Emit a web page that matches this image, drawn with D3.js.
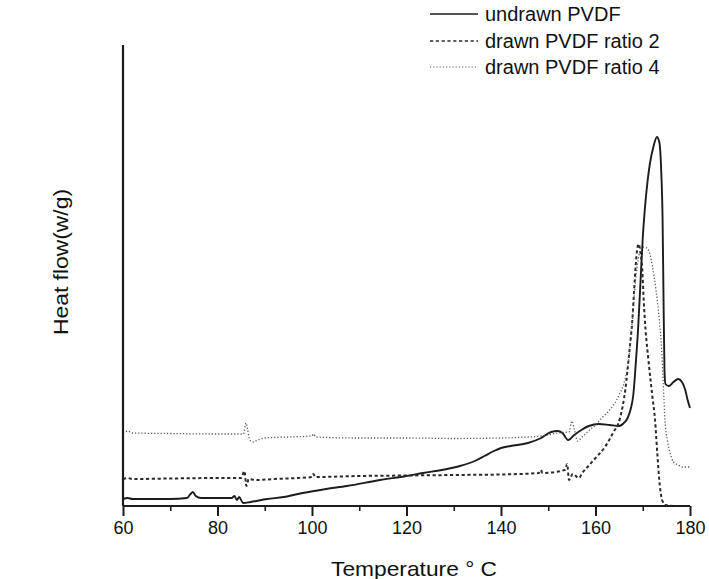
<!DOCTYPE html>
<html>
<head>
<meta charset="utf-8">
<script src="https://cdn.jsdelivr.net/npm/d3@7"></script>
<style>
  html, body { margin: 0; padding: 0; background: #fff; }
  svg { display: block; font-family: "Liberation Sans", Arial, sans-serif; }
</style>
</head>
<body>
<svg id="chart" width="709" height="579"></svg>
<script>
// ---- Data (temperature in °C, heat flow in W/g, arbitrary offset) ----
const seriesNames = ["undrawn PVDF", "drawn PVDF ratio 2", "drawn PVDF ratio 4"];

const undrawnT = [60, 61, 62, 66, 70, 73.5, 74.3, 74.8, 75.4, 76.5, 80, 83, 83.6, 84.1, 84.6, 85.4, 87, 90.5, 94, 98, 103, 107.4, 114.4, 120, 123.5, 128, 131.3, 134.9, 136.5, 138.5, 140, 142, 145.7, 148.5, 150.6, 152, 153, 154.2, 155.5, 157, 158.6, 160.7, 163, 165, 166, 166.8, 167.5, 168, 168.5, 169, 169.5, 170, 170.5, 171, 171.5, 172.3, 173, 173.5, 173.9, 174.2, 174.4, 174.6, 174.8, 175.5, 176.5, 177.5, 178.3, 179, 179.5, 180];
const undrawnV = [0.07, 0.08, 0.07, 0.07, 0.07, 0.08, 0.12, 0.14, 0.10, 0.08, 0.08, 0.08, 0.10, 0.06, 0.09, 0.03, 0.04, 0.07, 0.09, 0.13, 0.17, 0.20, 0.26, 0.30, 0.33, 0.365, 0.40, 0.46, 0.50, 0.55, 0.58, 0.60, 0.63, 0.68, 0.74, 0.75, 0.73, 0.66, 0.71, 0.76, 0.80, 0.82, 0.81, 0.80, 0.83, 0.88, 0.98, 1.11, 1.41, 1.76, 2.22, 2.68, 3.00, 3.24, 3.42, 3.60, 3.69, 3.64, 3.36, 2.86, 2.06, 1.36, 1.22, 1.20, 1.24, 1.27, 1.24, 1.16, 1.06, 0.98];

const ratio2T = [60, 61, 62, 70, 80, 85, 85.7, 86.1, 86.6, 88, 92, 97, 100, 100.3, 100.7, 110, 120, 130, 140, 148, 148.4, 148.8, 153.5, 154.0, 154.4, 155.2, 156.5, 157.2, 158.5, 160, 162, 163.7, 165.2, 166.3, 167.2, 167.8, 168.3, 168.8, 169.1, 169.5, 169.9, 170.2, 170.6, 171.2, 172, 172.6, 173.1, 173.6, 174.1, 174.8, 176.5];
const ratio2V = [0.27, 0.28, 0.27, 0.275, 0.28, 0.28, 0.35, 0.20, 0.27, 0.26, 0.27, 0.28, 0.29, 0.32, 0.29, 0.30, 0.305, 0.31, 0.315, 0.33, 0.36, 0.33, 0.36, 0.42, 0.26, 0.32, 0.28, 0.33, 0.40, 0.48, 0.59, 0.73, 0.88, 1.16, 1.56, 1.86, 2.26, 2.56, 2.62, 2.54, 2.36, 2.06, 1.76, 1.46, 1.11, 0.86, 0.51, 0.21, 0.06, 0.01, 0.0];

const ratio4T = [60, 60.5, 61, 62, 70, 80, 85.5, 86.0, 86.4, 86.8, 87.6, 88.5, 90, 95, 100, 100.3, 100.8, 110, 120, 130, 140, 148.5, 152.9, 154.4, 155.0, 155.6, 156.2, 157.2, 158.5, 160, 161.5, 163, 165, 166.2, 167, 167.8, 168.5, 169.2, 170, 170.9, 171.5, 172, 172.8, 173.5, 174, 174.4, 174.7, 175.2, 175.8, 176.5, 177.5, 178.5, 180];
const ratio4V = [0.73, 0.74, 0.75, 0.73, 0.725, 0.72, 0.72, 0.83, 0.76, 0.66, 0.64, 0.66, 0.68, 0.69, 0.70, 0.72, 0.69, 0.68, 0.68, 0.675, 0.68, 0.70, 0.735, 0.74, 0.85, 0.75, 0.65, 0.69, 0.75, 0.81, 0.89, 0.96, 1.11, 1.26, 1.46, 1.86, 2.26, 2.51, 2.59, 2.58, 2.52, 2.41, 2.16, 1.86, 1.56, 1.16, 0.86, 0.66, 0.53, 0.44, 0.41, 0.39, 0.39];

const xTickValues = [60, 80, 100, 120, 140, 160, 180];
const xMinorTickValues = [70, 90, 110, 130, 150, 170];
const xTitle = "Temperature ° C";
const yTitle = "Heat flow(w/g)";

// ---- Layout ----
const svg = d3.select("#chart");
const mLeft = 123, mRight = 690, mTop = 45, mBottom = 506;

const x = d3.scaleLinear().domain([60, 180]).range([mLeft, mRight]);
const y = d3.scaleLinear().domain([0, 4.61]).range([mBottom, mTop]);

const ink = "#1c1c1c";

const series = [
  { name: seriesNames[0], T: undrawnT, V: undrawnV, dash: null, width: 1.9, color: ink },
  { name: seriesNames[1], T: ratio2T, V: ratio2V, dash: "3.2,2.6", width: 2.0, color: "#2a2a2a" },
  { name: seriesNames[2], T: ratio4T, V: ratio4V, dash: "1.2,2", width: 1.3, color: "#555" }
];

const line = d3.line()
  .x(d => x(d[0]))
  .y(d => y(d[1]))
  .curve(d3.curveMonotoneX);

svg.append("g").selectAll("path")
  .data(series)
  .join("path")
  .attr("d", s => line(s.T.map((t, i) => [t, s.V[i]])))
  .attr("fill", "none")
  .attr("stroke", s => s.color)
  .attr("stroke-width", s => s.width)
  .attr("stroke-dasharray", s => s.dash)
  .attr("stroke-linejoin", "round");

// ---- Axes ----
const xAxis = d3.axisBottom(x)
  .tickValues(xTickValues)
  .tickSize(10)
  .tickPadding(5)
  .tickFormat(d3.format("d"));

const gx = svg.append("g")
  .attr("transform", `translate(0,${mBottom})`)
  .call(xAxis);
gx.select(".domain").attr("stroke", ink).attr("stroke-width", 2).attr("d", `M${mLeft},0H${mRight}`);
gx.selectAll(".tick line").attr("stroke", ink).attr("stroke-width", 2);
gx.selectAll(".tick text").attr("fill", "#111").style("font-size", "18px");

const gxm = svg.append("g")
  .attr("transform", `translate(0,${mBottom})`)
  .call(d3.axisBottom(x).tickValues(xMinorTickValues).tickSize(5).tickFormat(""));
gxm.select(".domain").remove();
gxm.selectAll(".tick line").attr("stroke", ink).attr("stroke-width", 1.6);

const gy = svg.append("g")
  .attr("transform", `translate(${mLeft},0)`)
  .call(d3.axisLeft(y).tickValues([]).tickSize(0));
gy.select(".domain").attr("stroke", ink).attr("stroke-width", 2.2).attr("d", `M0,${mTop}V${mBottom}`);

// ---- Titles ----
svg.append("text")
  .attr("x", 414).attr("y", 576)
  .attr("text-anchor", "middle")
  .style("font-size", "21px")
  .attr("textLength", 166)
  .attr("lengthAdjust", "spacingAndGlyphs")
  .attr("fill", "#111")
  .text(xTitle);

svg.append("text")
  .attr("transform", "translate(68,262) rotate(-90)")
  .attr("text-anchor", "middle")
  .style("font-size", "21px")
  .attr("textLength", 146)
  .attr("lengthAdjust", "spacingAndGlyphs")
  .attr("fill", "#111")
  .text(yTitle);

// ---- Legend ----
const rowY = [14, 41, 67];
const leg = svg.append("g").selectAll("g")
  .data(series)
  .join("g")
  .attr("transform", (s, i) => `translate(430,${rowY[i]})`);
leg.append("line")
  .attr("x1", 0).attr("x2", 48).attr("y1", 0).attr("y2", 0)
  .attr("stroke", s => s.color)
  .attr("stroke-width", s => s.width * 0.8)
  .attr("stroke-dasharray", s => s.dash);
leg.append("text")
  .attr("x", 55).attr("y", 7)
  .style("font-size", "20px")
  .attr("fill", "#111")
  .text(s => s.name);
</script>
</body>
</html>
